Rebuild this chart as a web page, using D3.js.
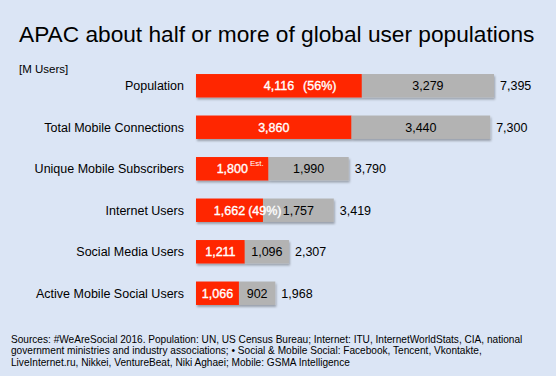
<!DOCTYPE html>
<html>
<head>
<meta charset="utf-8">
<script src="https://cdn.jsdelivr.net/npm/d3@7"></script>
<style>
  html, body { margin: 0; padding: 0; background: #dbe5f5; }
  svg { display: block; font-family: "Liberation Sans", Arial, Helvetica, sans-serif; }
</style>
</head>
<body>
<div id="chart"></div>
<script>
const categories = ["Population", "Total Mobile Connections", "Unique Mobile Subscribers",
  "Internet Users", "Social Media Users", "Active Mobile Social Users"];
const apacValues = [4116, 3860, 1800, 1662, 1211, 1066];
const restValues = [3279, 3440, 1990, 1757, 1096, 902];
const totalValues = [7395, 7300, 3790, 3419, 2307, 1968];
const apacNotes = ["(56%)", "", "Est.", "(49%)", "", ""];

const width = 556, height = 376;
const fmt = d3.format(",");

const rows = categories.map((c, i) => ({
  cat: c, apac: apacValues[i], rest: restValues[i], total: totalValues[i], note: apacNotes[i]
}));

const svg = d3.select("#chart").append("svg")
  .attr("width", width)
  .attr("height", height);

const defs = svg.append("defs");
defs.append("filter")
  .attr("id", "shadow")
  .attr("x", "-5%").attr("y", "-20%")
  .attr("width", "110%").attr("height", "160%")
  .append("feDropShadow")
    .attr("dx", 1).attr("dy", 2)
    .attr("stdDeviation", 1)
    .attr("flood-color", "#000")
    .attr("flood-opacity", 0.3);

svg.append("rect")
  .attr("width", width).attr("height", height)
  .attr("fill", "#dbe5f5");

svg.append("text")
  .attr("x", 19).attr("y", 42)
  .style("font-size", "22.7px")
  .attr("fill", "#000")
  .text("APAC about half or more of global user populations");

svg.append("text")
  .attr("x", 19).attr("y", 73)
  .style("font-size", "11.5px")
  .text("[M Users]");

const x = d3.scaleLinear().domain([0, d3.max(totalValues)]).range([196, 494]);
const y = d3.scaleBand().domain(categories).range([65, 314]).paddingInner(0.435).paddingOuter(0.2175);

// category labels
svg.append("g").selectAll("text")
  .data(rows)
  .join("text")
    .attr("x", 184)
    .attr("y", d => y(d.cat) + y.bandwidth() / 2)
    .attr("dy", "0.36em")
    .attr("text-anchor", "end")
    .style("font-size", "12.5px")
    .text(d => d.cat);

const bars = svg.append("g").selectAll("g")
  .data(rows)
  .join("g")
    .attr("filter", "url(#shadow)");

bars.append("rect")
  .attr("x", d => x(0))
  .attr("y", d => y(d.cat))
  .attr("width", d => x(d.apac) - x(0))
  .attr("height", y.bandwidth())
  .attr("fill", "#ff2700");

bars.append("rect")
  .attr("x", d => x(d.apac))
  .attr("y", d => y(d.cat))
  .attr("width", d => x(d.apac + d.rest) - x(d.apac))
  .attr("height", y.bandwidth())
  .attr("fill", "#b3b3b3");

const labels = svg.append("g").style("font-size", "12.5px");

// grey segment values
labels.selectAll(".rest")
  .data(rows)
  .join("text")
    .attr("class", "rest")
    .attr("x", d => (x(d.apac) + x(d.apac + d.rest)) / 2)
    .attr("y", d => y(d.cat) + y.bandwidth() / 2)
    .attr("dy", "0.36em")
    .attr("text-anchor", "middle")
    .attr("fill", "#000")
    .text(d => fmt(d.rest));

// totals
labels.selectAll(".total")
  .data(rows)
  .join("text")
    .attr("class", "total")
    .attr("x", d => x(d.apac + d.rest) + 6)
    .attr("y", d => y(d.cat) + y.bandwidth() / 2)
    .attr("dy", "0.36em")
    .attr("fill", "#000")
    .text(d => fmt(d.total));

// APAC values, centred in the red segment, note appended after
rows.forEach(d => {
  const cx = (x(0) + x(d.apac)) / 2;
  const cy = y(d.cat) + y.bandwidth() / 2;
  const num = labels.append("text")
    .attr("x", cx)
    .attr("y", cy)
    .attr("dy", "0.36em")
    .attr("text-anchor", "middle")
    .attr("fill", "#fff")
    .attr("stroke", "#fff")
    .attr("stroke-width", 0.35)
    .text(fmt(d.apac));
  if (!d.note) return;
  const end = cx + num.node().getComputedTextLength() / 2;
  if (d.note === "Est.") {
    labels.append("text")
      .attr("x", end + 2)
      .attr("y", cy - 3)
      .attr("fill", "#fff")
      .style("font-size", "8px")
      .text(d.note);
  } else {
    labels.append("text")
      .attr("x", end + (d.note === "(56%)" ? 9 : 3))
      .attr("y", cy)
      .attr("dy", "0.36em")
      .attr("fill", "#fff")
      .attr("stroke", "#fff")
      .attr("stroke-width", 0.35)
      .text(d.note);
  }
});

const notes = [
  "Sources: #WeAreSocial 2016. Population: UN, US Census Bureau; Internet: ITU, InternetWorldStats, CIA, national",
  "government ministries and industry associations; \u2022 Social & Mobile Social: Facebook, Tencent, Vkontakte,",
  "LiveInternet.ru, Nikkei, VentureBeat, Niki Aghaei; Mobile: GSMA Intelligence"
];
svg.append("g").selectAll("text")
  .data(notes)
  .join("text")
    .attr("x", 11)
    .attr("y", (d, i) => 342.5 + i * 11.5)
    .style("font-size", "10.1px")
    .attr("fill", "#000")
    .text(d => d);
</script>
</body>
</html>
